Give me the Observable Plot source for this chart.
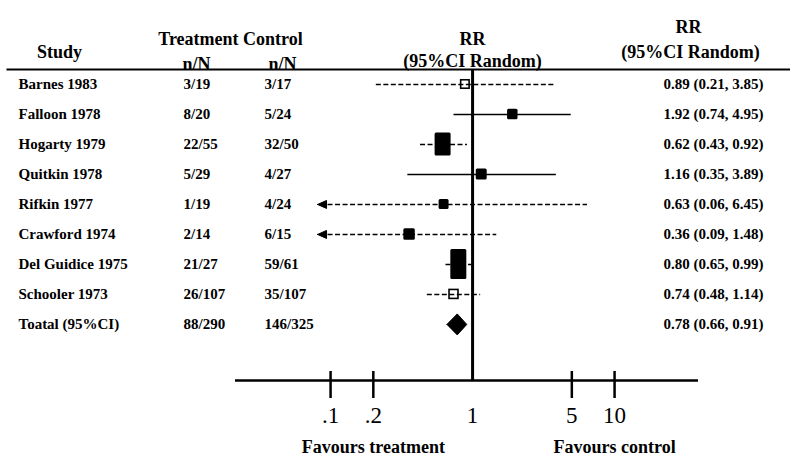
<!DOCTYPE html>
<html>
<head>
<meta charset="utf-8">
<script src="https://cdn.jsdelivr.net/npm/d3@7"></script>
<script src="https://cdn.jsdelivr.net/npm/@observablehq/plot@0.6"></script>
<style>
  body { margin: 0; background: #fff; }
  #chart svg { display: block; }
</style>
</head>
<body>
<div id="chart"></div>
<script>
// ---- data ----
const studies = ["Barnes 1983", "Falloon 1978", "Hogarty 1979", "Quitkin 1978", "Rifkin 1977",
                 "Crawford 1974", "Del Guidice 1975", "Schooler 1973", "Toatal (95%CI)"];
const treatment = ["3/19", "8/20", "22/55", "5/29", "1/19", "2/14", "21/27", "26/107", "88/290"];
const control   = ["3/17", "5/24", "32/50", "4/27", "4/24", "6/15", "59/61", "35/107", "146/325"];
const rr = [0.89, 1.92, 0.62, 1.16, 0.63, 0.36, 0.80, 0.74, 0.78];
const lo = [0.21, 0.74, 0.43, 0.35, 0.06, 0.09, 0.65, 0.48, 0.66];
const hi = [3.85, 4.95, 0.92, 3.89, 6.45, 1.48, 0.99, 1.14, 0.91];
// relative weight of each study (box area)
const weight = [4.9, 7.5, 25.2, 8.2, 6.8, 9.0, 32.8, 5.5];
const openStudies = ["Barnes 1983", "Schooler 1973"];
const solidStudies = ["Falloon 1978", "Quitkin 1978"];
const tickValues = [0.1, 0.2, 1, 5, 10];
const tickLabels = [".1", ".2", "1", "5", "10"];
const favourLabels = ["Favours treatment", "Favours control"];
const favourAt = [0.2, 10];

// ---- layout ----
const W = 790, H = 455, mT = 69, mB = 75, mL = 7, mR = 0;
const xDomain = [0.0214, 39], xRange = [235, 698];
const yDomain = [-0.5, 9.87];
const pxPerDecade = (xRange[1] - xRange[0]) / Math.log10(xDomain[1] / xDomain[0]);
const rowPx = (H - mB - mT) / (yDomain[1] - yDomain[0]);
const kx = px => Math.pow(10, px / pxPerDecade);
const ky = px => px / rowPx;
const clipMin = 0.085;

const rows = studies.map((s, i) => ({i, study: s, t: treatment[i], c: control[i],
  rr: rr[i], lo: lo[i], hi: hi[i], w: weight[i],
  label: `${rr[i].toFixed(2)} (${lo[i].toFixed(2)}, ${hi[i].toFixed(2)})`}));
const studyRows = rows.slice(0, 8);
const total = rows[8];

const ci = studyRows.map(d => ({...d, arrow: d.lo < tickValues[0], from: d.lo < tickValues[0] ? clipMin : d.lo}));
const boxes = studyRows.map(d => {
  const area = d.w * 14.6;
  const bw = Math.min(Math.sqrt(area), 16);
  const bh = area / bw;
  return {...d, x1: d.rr / kx(bw / 2), x2: d.rr * kx(bw / 2), y1: d.i - ky(bh / 2), y2: d.i + ky(bh / 2),
          open: openStudies.includes(d.study)};
});
const arrowPts = ci.filter(d => d.arrow).flatMap(d => [
  {k: d.study, x: clipMin / kx(3), y: d.i},
  {k: d.study, x: clipMin * kx(6), y: d.i - ky(4)},
  {k: d.study, x: clipMin * kx(6), y: d.i + ky(4)},
  {k: d.study, x: clipMin / kx(3), y: d.i}
]);
const diamond = [
  {x: total.lo, y: total.i}, {x: total.rr, y: total.i - ky(10.5)},
  {x: total.hi, y: total.i}, {x: total.rr, y: total.i + ky(10.5)}, {x: total.lo, y: total.i}
];

const font = "'Liberation Serif', 'Times New Roman', serif";
const hdr = {fontSize: 18, fontWeight: "bold", textAnchor: "middle"};

const chart = Plot.plot({
  width: W, height: H,
  marginTop: mT, marginBottom: mB, marginLeft: mL, marginRight: mR,
  x: {type: "log", domain: xDomain, range: xRange, axis: null},
  y: {domain: yDomain, range: [mT, H - mB], axis: null},
  style: {fontFamily: font, color: "black", background: "white", overflow: "visible"},
  marks: [
    // header rule
    Plot.frame({anchor: "top", stroke: "black", strokeWidth: 2}),
    // headers
    Plot.text(["Study"], {frameAnchor: "top-left", dx: 52, dy: -24, ...hdr}),
    Plot.text(["Treatment Control"], {frameAnchor: "top-left", dx: 223, dy: -37, ...hdr}),
    Plot.text(["n/N"], {frameAnchor: "top-left", dx: 189, dy: -12, ...hdr}),
    Plot.text(["n/N"], {frameAnchor: "top-left", dx: 275, dy: -12, ...hdr}),
    Plot.text(["RR"], {x: 1, frameAnchor: "top", dy: -37, ...hdr}),
    Plot.text(["(95%CI Random)"], {x: 1, frameAnchor: "top", dy: -15, ...hdr}),
    Plot.text(["RR"], {frameAnchor: "top-right", dx: -102, dy: -49, ...hdr}),
    Plot.text(["(95%CI Random)"], {frameAnchor: "top-right", dx: -100, dy: -24, ...hdr}),
    // table columns
    Plot.text(rows, {y: "i", text: "study", frameAnchor: "left", dx: 11, textAnchor: "start", fontSize: 15, fontWeight: "bold"}),
    Plot.text(rows, {y: "i", text: "t", frameAnchor: "left", dx: 176, textAnchor: "start", fontSize: 15, fontWeight: "bold"}),
    Plot.text(rows, {y: "i", text: "c", frameAnchor: "left", dx: 257, textAnchor: "start", fontSize: 15, fontWeight: "bold"}),
    Plot.text(rows, {y: "i", text: "label", frameAnchor: "right", dx: -27, textAnchor: "end", fontSize: 15, fontWeight: "bold"}),
    // confidence intervals
    Plot.ruleY(ci.filter(d => solidStudies.includes(d.study)), {y: "i", x1: "from", x2: "hi", stroke: "black", strokeWidth: 1.5}),
    Plot.ruleY(ci.filter(d => !solidStudies.includes(d.study)), {y: "i", x1: "from", x2: "hi", stroke: "black", strokeWidth: 1.5, strokeDasharray: "5,2.5"}),
    Plot.line(arrowPts, {x: "x", y: "y", z: "k", fill: "black", stroke: "black", strokeWidth: 1}),
    // line of no effect
    Plot.ruleX([1], {stroke: "black", strokeWidth: 3}),
    // study boxes
    Plot.rect(boxes.filter(d => !d.open), {x1: "x1", x2: "x2", y1: "y1", y2: "y2", fill: "black", rx: 1.5}),
    Plot.rect(boxes.filter(d => d.open), {x1: "x1", x2: "x2", y1: "y1", y2: "y2", fill: "none", stroke: "black", strokeWidth: 1.6}),
    // pooled diamond
    Plot.line(diamond, {x: "x", y: "y", fill: "black", stroke: "black", strokeWidth: 1}),
    // x axis
    Plot.ruleY([yDomain[1]], {x1: xDomain[0], x2: xDomain[1], stroke: "black", strokeWidth: 2.5}),
    Plot.ruleX(tickValues.filter(v => v !== 1), {y1: yDomain[1], y2: yDomain[1], insetTop: -9, insetBottom: -18, stroke: "black", strokeWidth: 2.5}),
    Plot.text(tickValues, {x: d => d, y: yDomain[1], text: (d, i) => tickLabels[i], dy: 42, lineAnchor: "bottom", fontSize: 23}),
    Plot.text(favourAt, {x: d => d, y: yDomain[1], text: (d, i) => favourLabels[i], dy: 72, lineAnchor: "bottom", fontSize: 18, fontWeight: "bold"})
  ]
});
document.getElementById("chart").appendChild(chart);
</script>
</body>
</html>
